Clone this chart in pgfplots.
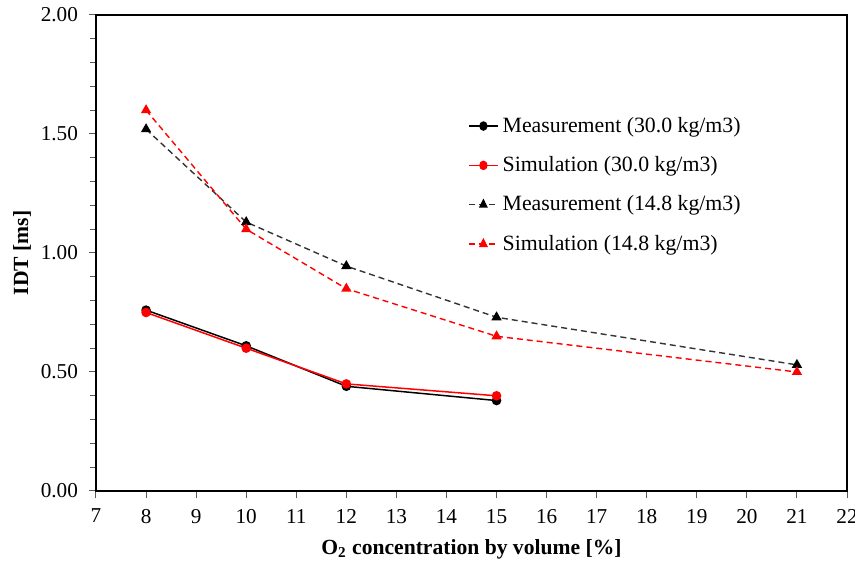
\documentclass[border=0pt]{standalone}
\usepackage{pgfplots}
\pgfplotsset{compat=1.18}
\usepackage{fontspec}
\setmainfont{Liberation Serif}
\definecolor{simred}{RGB}{255,0,0}

\begin{document}
\begin{tikzpicture}
\begin{axis}[
  name=ax,
  scale only axis,
  width=375.5pt, height=238pt,
  xmin=7, xmax=22, ymin=0, ymax=2,
  xtick={7,...,22},
  ytick={0,0.5,1,1.5,2},
  minor y tick num=4,
  yticklabel style={xshift=-2pt, /pgf/number format/.cd,fixed,fixed zerofill,precision=2},
  /pgf/number format/assume math mode=true,
  tick align=outside,
  xtick pos=bottom, ytick pos=left,
  major tick length=3.5pt, minor tick length=3pt,
  tick style={gray!70!black, line width=0.5pt},
  axis line style={line width=1pt},
  ticklabel style={font=\fontsize{10.6}{12}\selectfont},
  xticklabel style={yshift=-2pt},
  xlabel={\textbf{O\textsubscript{2} concentration by volume [\%]}},
  ylabel={\textbf{IDT [ms]}},
  label style={font=\fontsize{10.8}{12}\selectfont},
  xlabel style={at={(axis description cs:0.5,-0.122)}, anchor=center},
  ylabel style={at={(axis description cs:-0.0985,0.5)}, anchor=center},
  legend style={draw=none, fill=none, at={(0.495,0.795)}, anchor=north west,
    font=\fontsize{10.9}{12}\selectfont, row sep=6.6pt, inner sep=0pt},
  legend cell align=left,
  legend image post style={xscale=0.85},
]
\addplot[black, line width=0.75pt, mark=*, mark size=2pt] coordinates {
  (8,0.76) (10,0.61) (12,0.44) (15,0.38)};
\addlegendentry{Measurement (30.0 kg/m3)}
\addplot[simred, line width=0.75pt, mark=*, mark size=2pt] coordinates {
  (8,0.75) (10,0.60) (12,0.45) (15,0.40)};
\addlegendentry{Simulation (30.0 kg/m3)}
\addplot[black!80, line width=0.7pt, dash pattern=on 3pt off 2pt, mark=triangle*, mark size=2.3pt,
  mark options={solid, black}] coordinates {
  (8,1.52) (10,1.13) (12,0.945) (15,0.73) (21,0.53)};
\addlegendentry{Measurement (14.8 kg/m3)}
\addplot[simred, line width=0.7pt, dash pattern=on 3pt off 2pt, mark=triangle*, mark size=2.3pt,
  mark options={solid}] coordinates {
  (8,1.60) (10,1.10) (12,0.85) (15,0.65) (21,0.50)};
\addlegendentry{Simulation (14.8 kg/m3)}
\end{axis}
% page frame: fixed margins around the plot area
\pgfresetboundingbox
\path[use as bounding box] ([shift={(-48pt,-35pt)}]ax.south west) rectangle ([shift={(4pt,7.5pt)}]ax.north east);
\end{tikzpicture}
\end{document}
